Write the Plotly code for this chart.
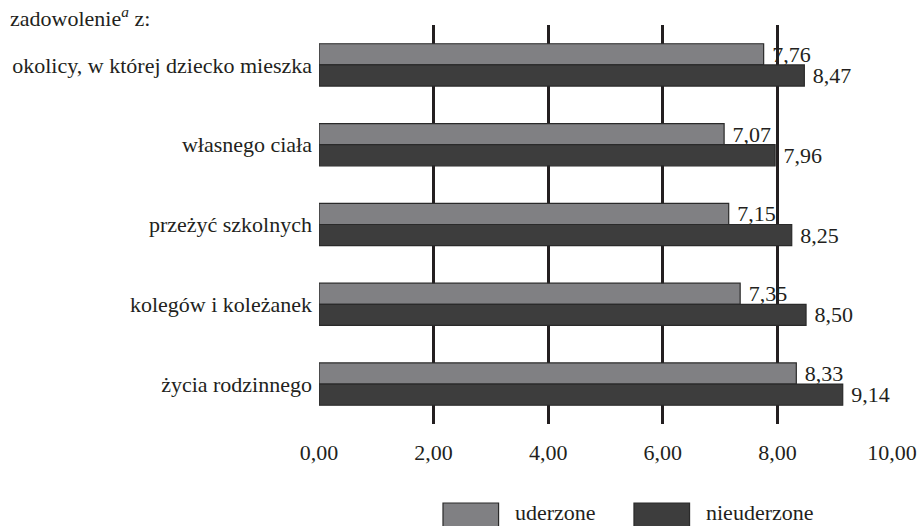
import plotly.graph_objects as go

# categories, top to bottom
categories = [
    "okolicy, w której dziecko mieszka",
    "własnego ciała",
    "przeżyć szkolnych",
    "kolegów i koleżanek",
    "życia rodzinnego",
]
uderzone = [7.76, 7.07, 7.15, 7.35, 8.33]
nieuderzone = [8.47, 7.96, 8.25, 8.50, 9.14]
tick_vals = [0, 2, 4, 6, 8, 10]
tick_text = ["0,00", "2,00", "4,00", "6,00", "8,00", "10,00"]

GRAY = "#808083"
DARK = "#3d3d3d"
FONT = dict(family="Liberation Serif", size=22, color="#231f20")

fig = go.Figure()
for name, vals, col in [("uderzone", uderzone, GRAY), ("nieuderzone", nieuderzone, DARK)]:
    fig.add_trace(
        go.Bar(
            y=categories,
            x=vals,
            name=name,
            orientation="h",
            marker=dict(color=col, line=dict(color="#2a2a2a", width=1.2)),
            text=[" " + f"{v:.2f}".replace(".", ",") for v in vals],
            textposition="outside",
            textfont=FONT,
            constraintext="none",
            cliponaxis=False,
            showlegend=False,
        )
    )

fig.update_layout(
    barmode="group",
    bargap=0.47,
    bargroupgap=0,
    plot_bgcolor="white",
    paper_bgcolor="white",
    width=923,
    height=526,
    margin=dict(l=319, r=31, t=25, b=102),
    font=FONT,
)

fig.update_xaxes(
    range=[0, 10],
    tickvals=tick_vals,
    ticktext=tick_text,
    showgrid=True,
    gridcolor="#231f20",
    gridwidth=2.5,
    zeroline=False,
    showline=False,
    ticks="outside",
    ticklen=9,
    tickcolor="rgba(0,0,0,0)",
    layer="below traces",
    automargin=False,
)
fig.update_yaxes(
    autorange="reversed",
    showgrid=False,
    zeroline=False,
    showline=False,
    ticks="",
    ticklabelstandoff=6,
    automargin=False,
)

# header text
fig.add_annotation(
    text="zadowolenie<sup><i>a</i></sup> z:",
    xref="paper", yref="paper", x=-0.543, y=1.02,
    xanchor="left", yanchor="middle", showarrow=False, font=FONT,
)

# legend drawn with large swatches
legend_items = [("uderzone", GRAY, 0.2164, 0.3386), ("nieuderzone", DARK, 0.5497, 0.672)]
for label, col, x0, xt in legend_items:
    fig.add_shape(
        type="rect", xref="paper", yref="paper",
        x0=x0, x1=x0 + 0.097, y0=-0.198, y1=-0.262,
        fillcolor=col, line=dict(color="#2a2a2a", width=1.2),
    )
    fig.add_annotation(
        text=label, xref="paper", yref="paper", x=xt, y=-0.222,
        xanchor="left", yanchor="middle", showarrow=False, font=FONT,
    )

fig.write_html(
    "out.html",
    config={"displayModeBar": False},
    post_script="document.body.style.margin='0';",
)
